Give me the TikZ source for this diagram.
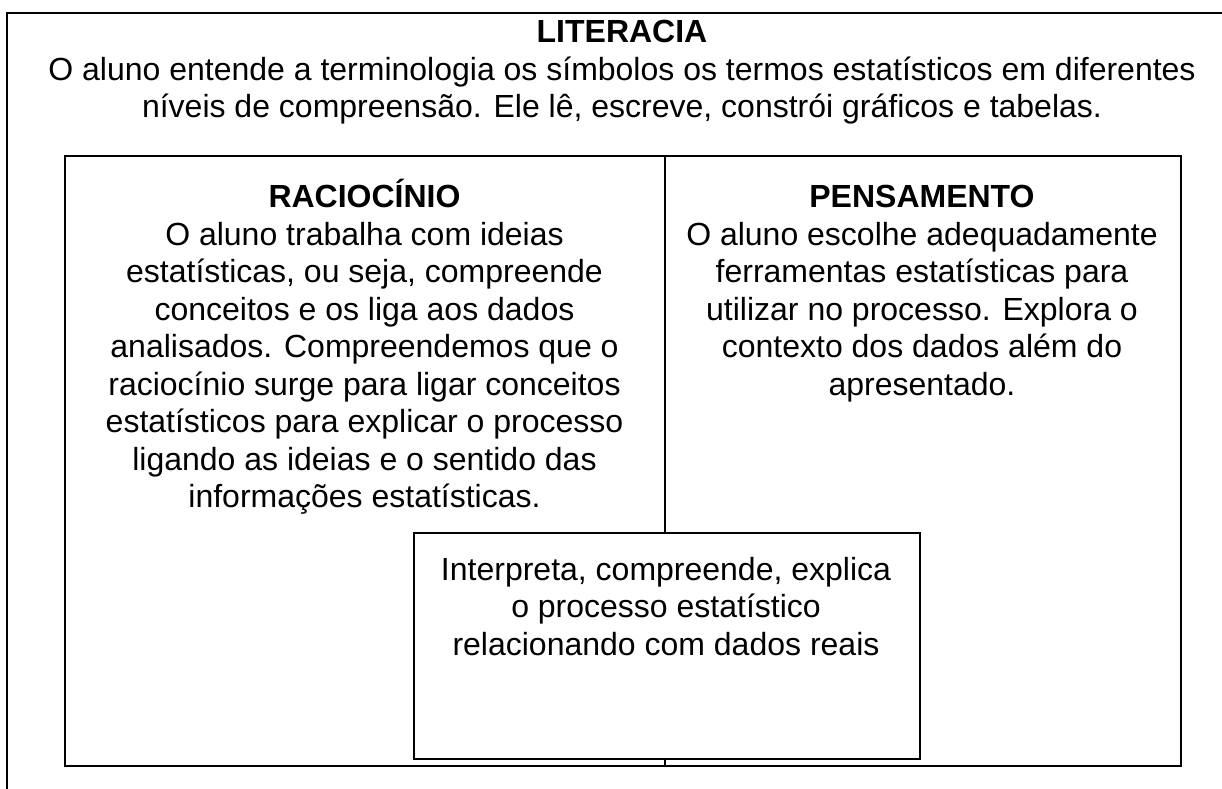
\documentclass[tikz,border=0pt]{standalone}
\usepackage{fontspec}
\setmainfont{Liberation Sans}
\begin{document}
\begin{tikzpicture}[x=1pt,y=-1pt,
  txt/.style={font=\fontsize{32}{37.5}\selectfont, align=center, inner sep=0pt, anchor=base},
  frame/.style={line width=2pt},
  fine/.style={line width=1.6pt},
  smallbox/.style={fine, fill=white}]
\useasboundingbox (0,0) rectangle (1222,788);
% outer frame (open to the right and bottom)
\coordinate (oa) at (7,800);
\coordinate (ob) at (7,13);
\coordinate (oc) at (1240,13);
\draw[frame] (oa) -- (ob) -- (oc);
% (anchor=base of a multi-line node is the baseline of its last line)
\node[txt] (lit) at (622,117.5) {\textbf{LITERACIA}\\O aluno entende a terminologia os símbolos os termos estatísticos em diferentes\\níveis de compreensão. Ele lê, escreve, constrói gráficos e tabelas.};
% inner box
\node[frame, draw, inner sep=0pt, minimum width=1116pt, minimum height=610pt, anchor=north west] (inner) at (64,155) {};
\coordinate (dtop) at (665,155);
\coordinate (dbot) at (665,765);
\draw[fine] (dtop) -- (dbot);
\node[txt] (rac) at (364.5,507.5) {\textbf{RACIOCÍNIO}\\O aluno trabalha com ideias\\estatísticas, ou seja, compreende\\conceitos e os liga aos dados\\analisados. Compreendemos que o\\raciocínio surge para ligar conceitos\\estatísticos para explicar o processo\\ligando as ideias e o sentido das\\informações estatísticas.};
\node[txt] (pen) at (922,395) {\textbf{PENSAMENTO}\\O aluno escolhe adequadamente\\ferramentas estatísticas para\\utilizar no processo. Explora o\\contexto dos dados além do\\apresentado.};
% small box
\node[smallbox, draw, inner sep=0pt, minimum width=506pt, minimum height=226pt, anchor=north west] (sb) at (413,532) {};
\node[txt] (sbt) at (666,655) {Interpreta, compreende, explica\\o processo estatístico\\relacionando com dados reais};
\end{tikzpicture}
\end{document}
